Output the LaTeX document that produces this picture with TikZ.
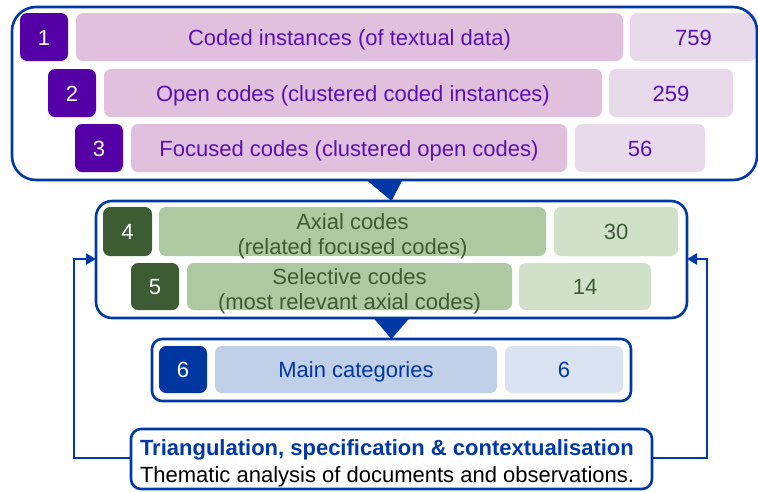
\documentclass[tikz,border=0pt]{standalone}
\usepackage{fontspec}
\setmainfont{Liberation Sans}
\usetikzlibrary{arrows.meta}

\definecolor{frameblue}{HTML}{0038A6}
\definecolor{purpdark}{HTML}{5400A6}
\definecolor{purpmid}{HTML}{E0C0DC}
\definecolor{purplight}{HTML}{E8DAEA}
\definecolor{purptext}{HTML}{5A10B2}
\definecolor{grndark}{HTML}{3D5C33}
\definecolor{grnmid}{HTML}{ADC9A1}
\definecolor{grnlight}{HTML}{D1E1C9}
\definecolor{bluedark}{HTML}{0036A0}
\definecolor{bluemid}{HTML}{C0D0E8}
\definecolor{bluelight}{HTML}{DAE3F1}

% a box given by its two corners (x1,y1) and (x2,y2)
\newcommand\cornerbox[7]{%
  \node[#2, minimum width={(#5-#3)*1pt}, minimum height={(#6-#4)*1pt}]
    (#1) at ({(#3+#5)/2},{(#4+#6)/2}) {#7};}

\begin{document}
\begin{tikzpicture}[x=1pt,y=-1pt,
  every node/.style={inner sep=0pt, outer sep=0pt, font=\fontsize{22}{25}\selectfont},
  tile/.style={rounded corners=7pt, align=center, text height=16pt, text depth=-2pt},
  twoline/.style={align=center, text depth=1pt},
  numtile/.style={tile, text=white},
  group/.style={draw=frameblue, line width=2.6pt},
  flow/.style={draw=frameblue, line width=2.6pt, -{Triangle[length=10pt,width=11pt]}},
  pointer/.style={fill=frameblue}]
\useasboundingbox (0,0) rectangle (758,491);

% stage 1-3: coding of the textual data
\cornerbox{n1}{numtile, fill=purpdark}{20}{13}{68}{61}{1}
\cornerbox{l1}{tile, fill=purpmid, text=purptext}{76}{13}{623}{61}{Coded instances (of textual data)}
\cornerbox{c1}{tile, fill=purplight, text=purptext}{630}{13}{757}{61}{759}
\cornerbox{n2}{numtile, fill=purpdark}{48}{69}{96}{117}{2}
\cornerbox{l2}{tile, fill=purpmid, text=purptext}{104}{69}{602}{117}{Open codes (clustered coded instances)}
\cornerbox{c2}{tile, fill=purplight, text=purptext}{609}{69}{733}{117}{259}
\cornerbox{n3}{numtile, fill=purpdark}{75}{124}{123}{172}{3}
\cornerbox{l3}{tile, fill=purpmid, text=purptext}{131}{124}{567}{172}{Focused codes (clustered open codes)}
\cornerbox{c3}{tile, fill=purplight, text=purptext}{575}{124}{705}{172}{56}
\cornerbox{g1}{group, rounded corners=24pt}{12}{7}{757}{180}{}

% stage 4-5: axial and selective coding
\cornerbox{n4}{numtile, fill=grndark}{103}{207}{152}{256}{4}
\cornerbox{l4}{tile, fill=grnmid}{159}{207}{546}{256}{}
\node[twoline, text=grndark] (l4t) at ([yshift=-3pt]l4.center) {Axial codes\\(related focused codes)};
\cornerbox{c4}{tile, fill=grnlight, text=grndark}{554}{207}{678}{256}{30}
\cornerbox{n5}{numtile, fill=grndark}{131}{263}{179}{310}{5}
\cornerbox{l5}{tile, fill=grnmid}{187}{263}{512}{310}{}
\node[twoline, text=grndark] (l5t) at ([yshift=-3pt]l5.center) {Selective codes\\(most relevant axial codes)};
\cornerbox{c5}{tile, fill=grnlight, text=grndark}{519}{263}{651}{310}{14}
\cornerbox{g2}{group, rounded corners=16pt}{96}{201}{687}{318}{}

% stage 6: main categories
\cornerbox{n6}{numtile, fill=bluedark}{159}{346}{207}{393}{6}
\cornerbox{l6}{tile, fill=bluemid, text=bluedark}{215}{346}{497}{393}{Main categories}
\cornerbox{c6}{tile, fill=bluelight, text=bluedark}{505}{346}{623}{393}{6}
\cornerbox{g3}{group, rounded corners=10pt}{152}{339}{631}{401}{}

% triangulation step
\cornerbox{tri}{group, rounded corners=10pt}{131}{429}{652}{489}{}
\node[anchor=base west, text=frameblue, font=\fontsize{22}{25}\selectfont\bfseries] (trihead) at (140,455) {Triangulation, specification \& contextualisation};
\node[anchor=base west, text=black] (tribody) at (140,482) {Thematic analysis of documents and observations.};

% pointers between the stages
\fill[pointer] (g1.south) ++(-18,0) -- ++(36,0) -- (g2.north) -- cycle;
\fill[pointer] (g2.south) ++(-18,0) -- ++(36,0) -- (g3.north) -- cycle;

% feedback loops back to axial coding
\coordinate (lft) at (74,458);
\coordinate (rgt) at (707,458);
\draw[flow] (tri.west |- lft) -- (lft) |- (g2.west |- 0,259);
\draw[flow] (tri.east |- rgt) -- (rgt) |- (g2.east |- 0,259);
\end{tikzpicture}
\end{document}
